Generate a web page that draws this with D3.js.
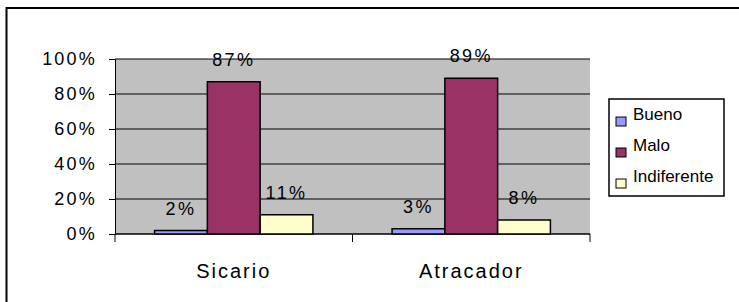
<!DOCTYPE html>
<html>
<head>
<meta charset="utf-8">
<script src="https://cdn.jsdelivr.net/npm/d3@7"></script>
<style>
  body { margin: 0; background: #fff; }
  text { font-family: Arial, "Liberation Sans", sans-serif; fill: #000; }
</style>
</head>
<body>
<div id="chart"></div>
<script>
// data
var categories = ["Sicario", "Atracador"];
var seriesNames = ["Bueno", "Malo", "Indiferente"];
var bueno = [2, 3];
var malo = [87, 89];
var indiferente = [11, 8];
var yTicks = [0, 20, 40, 60, 80, 100];

var colors = ["#9999ff", "#993366", "#ffffcc"];
var seriesValues = [bueno, malo, indiferente];

var W = 739, H = 302;
var plot = { left: 115, right: 590, top: 59, bottom: 234 };

var svg = d3
  .select("#chart")
  .append("svg")
  .attr("width", W)
  .attr("height", H);

// outer frame (only left and top edges are visible)
svg.append("rect")
  .attr("x", 6.5).attr("y", 8)
  .attr("width", W + 10).attr("height", H + 10)
  .style("fill", "#fff")
  .style("stroke", "#000")
  .style("stroke-width", 2);

var x0 = d3.scaleBand().domain(categories).range([plot.left, plot.right]);
var bandW = x0.bandwidth();
var barW = bandW / 4.5;
var x1 = d3.scaleBand().domain(seriesNames).range([0, barW * 3]);

var y = d3.scaleLinear().domain([0, 100]).range([plot.bottom, plot.top]);

// plot area background
svg.append("rect")
  .attr("x", plot.left).attr("y", plot.top)
  .attr("width", plot.right - plot.left).attr("height", plot.bottom - plot.top)
  .style("fill", "#c0c0c0");

// gridlines
svg.append("g")
  .selectAll("line")
  .data(yTicks.filter(function (d) { return d > 0; }))
  .enter()
  .append("line")
  .attr("x1", plot.left).attr("x2", plot.right)
  .attr("y1", function (d) { return y(d); })
  .attr("y2", function (d) { return y(d); })
  .style("stroke", "#000")
  .style("stroke-width", 1);

// Y axis
var yAxis = svg.append("g")
  .attr("transform", "translate(" + plot.left + ",0)")
  .call(d3.axisLeft(y).tickValues(yTicks).tickSize(6).tickPadding(12)
    .tickFormat(function (d) { return d + "%"; }));
yAxis.selectAll("path, line").style("stroke", "#000");
yAxis.selectAll("text")
  .style("font-size", "18px")
  .style("letter-spacing", "2.2px");

// X axis
var xAxis = svg.append("g")
  .attr("transform", "translate(0," + plot.bottom + ")");
xAxis.append("line")
  .attr("x1", plot.left).attr("x2", plot.right)
  .style("stroke", "#000").style("stroke-width", 1.5);
xAxis.selectAll("line.tick")
  .data([plot.left, plot.left + bandW, plot.right])
  .enter()
  .append("line")
  .attr("class", "tick")
  .attr("x1", function (d) { return d; })
  .attr("x2", function (d) { return d; })
  .attr("y1", 0).attr("y2", 8)
  .style("stroke", "#000");
xAxis.selectAll("text")
  .data(categories)
  .enter()
  .append("text")
  .attr("x", function (d) { return x0(d) + bandW / 2; })
  .attr("y", 44)
  .attr("text-anchor", "middle")
  .style("font-size", "20px")
  .style("letter-spacing", "2px")
  .text(function (d) { return d; });

// bars
var groups = svg.append("g")
  .selectAll("g")
  .data(categories)
  .enter()
  .append("g")
  .attr("transform", function (d) {
    return "translate(" + (x0(d) + (bandW - barW * 3) / 2) + ",0)";
  });

groups.selectAll("rect")
  .data(function (d, i) {
    return seriesNames.map(function (s, j) {
      return { series: s, value: seriesValues[j][i], color: colors[j] };
    });
  })
  .enter()
  .append("rect")
  .attr("x", function (d) { return x1(d.series); })
  .attr("y", function (d) { return y(d.value); })
  .attr("width", x1.bandwidth())
  .attr("height", function (d) { return plot.bottom - y(d.value); })
  .style("fill", function (d) { return d.color; })
  .style("stroke", "#000")
  .style("stroke-width", 1.5);

groups.selectAll("text")
  .data(function (d, i) {
    return seriesNames.map(function (s, j) {
      return { series: s, value: seriesValues[j][i] };
    });
  })
  .enter()
  .append("text")
  .attr("x", function (d) { return x1(d.series) + x1.bandwidth() / 2; })
  .attr("y", function (d) { return y(d.value) - 16; })
  .attr("text-anchor", "middle")
  .style("font-size", "18px")
  .style("letter-spacing", "2.4px")
  .text(function (d) { return d.value + "%"; });

// legend
var legend = svg.append("g").attr("transform", "translate(609,99)");
legend.append("rect")
  .attr("width", 115).attr("height", 97)
  .style("fill", "#fff")
  .style("stroke", "#000")
  .style("stroke-width", 1.5);

var items = legend.selectAll("g.item")
  .data(seriesNames)
  .enter()
  .append("g")
  .attr("class", "item")
  .attr("transform", function (d, i) { return "translate(7," + (18 + i * 31) + ")"; });

items.append("rect")
  .attr("x", 0).attr("y", 0)
  .attr("width", 10).attr("height", 9)
  .style("fill", function (d, i) { return colors[i]; })
  .style("stroke", "#000")
  .style("stroke-width", 1);

items.append("text")
  .attr("x", 17).attr("y", 3)
  .style("font-size", "17px")
  .text(function (d) { return d; });
</script>
</body>
</html>
